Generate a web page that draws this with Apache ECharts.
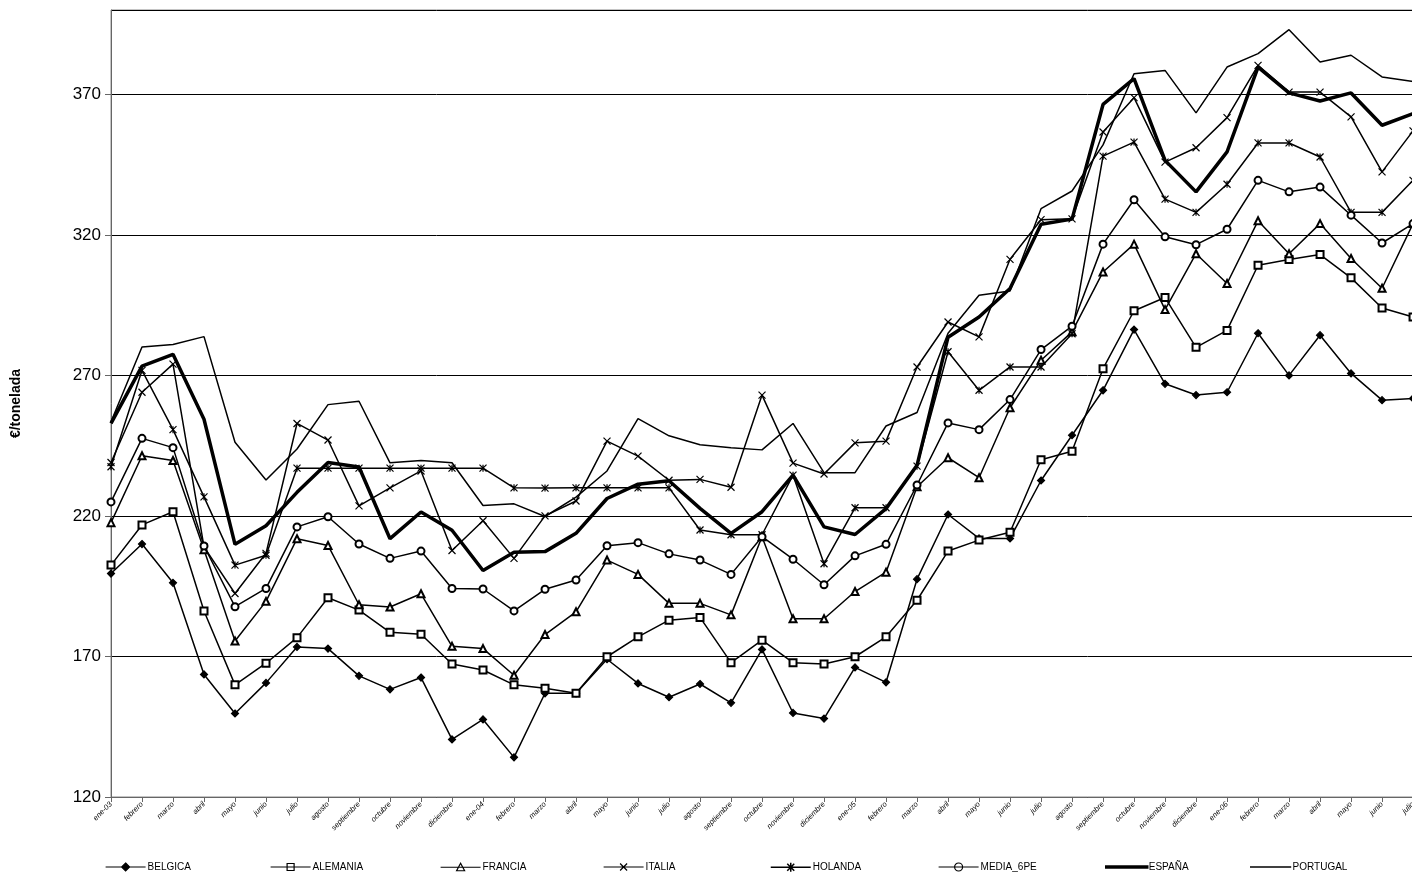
<!DOCTYPE html>
<html>
<head>
<meta charset="utf-8">
<script src="https://cdn.jsdelivr.net/npm/echarts@6/dist/echarts.min.js"></script>
<style>
html, body { margin: 0; padding: 0; background: #fff; overflow: hidden; }
#chart { width: 1418px; height: 882px; }
</style>
</head>
<body>
<div id="chart"></div>
<script>
// meses
var meses = ['ene-03','febrero','marzo','abril','mayo','junio','julio','agosto','septiembre','octubre','noviembre','diciembre',
  'ene-04','febrero','marzo','abril','mayo','junio','julio','agosto','septiembre','octubre','noviembre','diciembre',
  'ene-05','febrero','marzo','abril','mayo','junio','julio','agosto','septiembre','octubre','noviembre','diciembre',
  'ene-06','febrero','marzo','abril','mayo','junio','julio'];

// precios €/tonelada
var belgica = [199.5,210,196.2,163.6,149.7,160.6,173.4,172.8,163.1,158.3,162.5,140.5,147.6,134.1,156.9,156.9,169,160.4,155.5,160.2,153.5,172.5,149.9,147.9,166.1,160.8,197.5,220.5,212,212,232.6,248.7,264.7,286.3,267,263,264,285,270,284.3,270.7,261.2,261.8];
var alemania = [202.5,216.8,221.5,186.2,159.9,167.6,176.7,190.9,186.5,178.6,177.9,167.3,165.2,159.9,158.7,156.9,169.9,177,182.9,183.9,167.8,175.8,167.8,167.3,169.9,177,190,207.5,211.4,214.2,240,243,272.4,293,297.7,280,286,309.2,311.2,313,304.7,294,290.8];
var francia = [217.6,241.4,239.7,208,175.5,189.6,211.9,209.5,188.4,187.6,192.3,173.6,172.8,163.3,177.8,185.9,204.3,199.2,188.9,188.9,184.8,212.6,183.4,183.4,193.1,200,230.4,240.7,233.6,258.5,275.4,285.5,306.8,316.7,293.4,313.3,302.7,325,313.3,324,311.6,301,324];
var italia = [239,264,274,209,192.4,206.7,252.9,247,223.6,230,236,207.7,218.3,204.9,220,225.3,246.6,241.3,232.7,233,230.2,263,238.8,234.9,246,246.6,273,289,283.7,311.3,325.4,325.7,356.6,368.8,345.9,351,361.7,380.3,370.8,370.8,362,342.4,357];
var holanda = [237.5,271.8,250.7,226.8,202.5,206,237,237,237,237,237,237,237,230,229.9,230,230,230,230,215,213.3,213.3,234.5,203,222.9,222.9,237.7,278.4,264.7,273,273,284.8,348,353,332.7,328,338,352.7,352.7,347.7,328,328,339.4];
var media6pe = [225,247.6,244.3,209.3,187.7,194.2,216.1,219.7,210,204.9,207.5,194.2,194,186.2,193.9,197.2,209.4,210.5,206.5,204.3,199.2,212.6,204.6,195.5,205.8,209.9,231,253.1,250.7,261.4,279.2,287.5,316.7,332.5,319.3,316.5,322,339.4,335.3,337,327,317.1,324];
var espana = [252.9,273.3,277.5,254.4,209.9,216.5,228.4,239,237.4,211.9,221.4,214.9,200.6,207.1,207.3,213.8,226.2,231.3,232.5,222.7,213.8,221.5,234.5,216.1,213.4,222.6,238,283.6,290.8,300.9,323.8,325.6,366.4,375.6,346.5,335.3,349.5,379.7,370.5,367.6,370.5,359,363.1];
var portugal = [253.5,280.1,281,283.8,246.2,232.8,243.8,259.6,260.8,238.9,239.7,238.9,223.7,224.3,219.8,226.7,236,254.6,248.5,245.3,244.3,243.5,252.9,235.4,235.4,252,256.8,285,298.5,300,329.3,335.6,352,377.3,378.5,363.4,379.7,384.5,393,381.5,383.9,376.2,374.6];

var nombres = ['BELGICA','ALEMANIA','FRANCIA','ITALIA','HOLANDA','MEDIA_6PE','ESPAÑA','PORTUGAL'];
var datos = [belgica, alemania, francia, italia, holanda, media6pe, espana, portugal];
var simbolos = ['diamond','emptyRect','emptyTriangle','path://M0,0L10,10M10,0L0,10','path://M0,0L10,10M10,0L0,10M5,0L5,10','emptyCircle','none','none'];
var tamanos = [7,7,7,7,7,7,0,0];
var legendX = [100,265,435,598,765,933,1100,1245];

// iconos de leyenda: linea + marcador
var linea = 'M0,5L40,5';
var iconos = [
    'path://' + linea + 'M20,1L24,5L20,9L16,5Z',
    'path://' + linea + 'M16.5,1.5L23.5,1.5L23.5,8.5L16.5,8.5Z',
    'path://' + linea + 'M20,1L24,8.5L16,8.5Z',
    'path://' + linea + 'M16.5,1.5L23.5,8.5M23.5,1.5L16.5,8.5',
    'path://' + linea + 'M16.5,1.5L23.5,8.5M23.5,1.5L16.5,8.5M20,0.5L20,9.5',
    'path://' + linea + 'M24,5A4,4,0,1,1,16,5A4,4,0,1,1,24,5Z',
    'path://M0,4.9L40,4.9L40,5.1L0,5.1Z',
    'path://M0,4.9L40,4.9L40,5.1L0,5.1Z'
];
var rellenos = ['#000','#fff','#fff','#fff','#fff','#fff','#000','#000'];
var grosores = [1.2,1.2,1.2,1.2,1.5,1.2,3.5,1.2];

var myChart = echarts.init(document.getElementById('chart'));

var series = datos.map(function (d, i) {
    var esp = nombres[i] === 'ESPAÑA';
    return {
        name: nombres[i],
        type: 'line',
        data: d,
        symbol: simbolos[i],
        symbolSize: tamanos[i],
        showSymbol: tamanos[i] > 0,
        lineStyle: { color: '#000', width: esp ? 3.5 : 1.5 },
        itemStyle: { color: '#000', borderColor: '#000', borderWidth: 1.2 },
        animation: false,
        z: esp ? 5 : 3
    };
});

var legends = nombres.map(function (n, i) {
    return {
        data: [{ name: n, icon: iconos[i] }],
        left: legendX[i],
        top: 857,
        itemWidth: 40,
        itemHeight: 10,
        itemGap: 0,
        itemStyle: { color: rellenos[i], borderColor: '#000', borderWidth: grosores[i] },
        textStyle: { fontFamily: 'Liberation Sans', fontSize: 10, color: '#000', padding: [0, 0, 0, -3] },
        selectedMode: false
    };
});

var option = {
    backgroundColor: '#fff',
    animation: false,
    legend: legends,
    grid: { left: 111, right: 1, top: 10, bottom: 85, show: true, borderColor: '#888', borderWidth: 1 },
    xAxis: {
        type: 'category',
        data: meses,
        boundaryGap: false,
        axisLine: { lineStyle: { color: '#666' } },
        axisTick: { show: true, lineStyle: { color: '#666' } },
        axisLabel: { interval: 0, rotate: 45, fontSize: 7.5, fontStyle: 'italic', color: '#000', fontFamily: 'Liberation Sans', margin: 6 },
        splitLine: { show: false }
    },
    yAxis: {
        type: 'value',
        min: 120,
        max: 400,
        interval: 50,
        name: '€/tonelada',
        nameLocation: 'middle',
        nameGap: 88,
        nameTextStyle: { fontFamily: 'Liberation Sans', fontSize: 14, fontWeight: 'bold', color: '#000' },
        axisLine: { show: true, lineStyle: { color: '#666' } },
        axisTick: { show: true, length: 6, lineStyle: { color: '#666' } },
        axisLabel: { showMaxLabel: false, fontSize: 17, color: '#000', fontFamily: 'Liberation Sans', margin: 10 },
        splitLine: { show: true, lineStyle: { color: '#000', width: 1 } }
    },
    series: series
};

myChart.setOption(option);
</script>
</body>
</html>
